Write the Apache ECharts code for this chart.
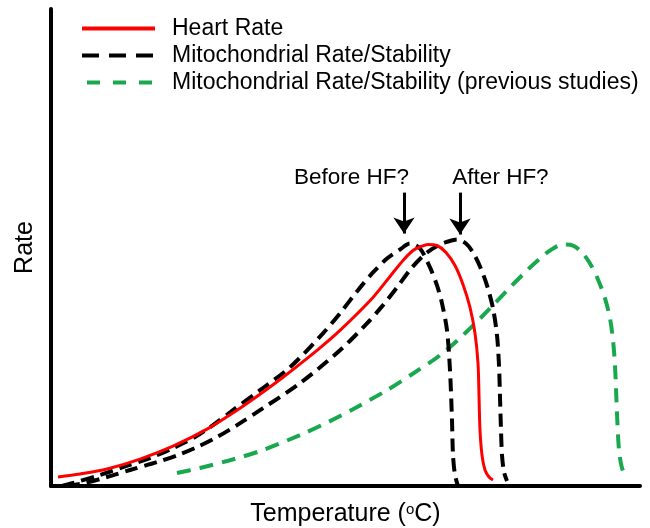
<!DOCTYPE html>
<html>
<head>
<meta charset="utf-8">
<script src="https://cdn.jsdelivr.net/npm/echarts@6/dist/echarts.min.js"></script>
<style>
html,body{margin:0;padding:0;background:#fff;}
#chart{width:650px;height:528px;}
</style>
</head>
<body>
<div id="chart"></div>
<script>
// Temperature (arbitrary units) vs Rate (arbitrary units)
const seriesNames = ['Heart Rate', 'Mitochondrial Rate/Stability', 'Mitochondrial Rate/Stability (previous studies)'];

const heartRate = [
  [7,9],[29,12],[56,17],[89,27],[122,40],[156,57],[186,76],[209,92],[232,109],[266,136],
  [289,156],[322,189],[339,210],[352,226],[362,236],[370,240],[377,242],[386,241],[395,234],
  [404,221],[412,202],[419,179],[424,153],[427,123],[428,91],[429,56],[431,31],[434,16],[438,9],[442,6]
];

const mitoBefore = [
  [11,0],[22,3],[49,11],[72,19],[99,28],[122,38],[144,49],[162,61],[182,76],[209,96],
  [239,119],[272,153],[289,173],[306,195],[322,214],[336,228],[349,237],[359,243],[369,238],
  [379,219],[386,201],[391,183],[396,156],[399,116],[401,66],[402,31],[404,11],[407,0]
];

const mitoAfter = [
  [16,0],[34,3],[56,9],[79,16],[106,24],[127,31],[146,39],[166,49],[186,61],[212,78],
  [249,103],[289,136],[316,163],[331,180],[346,199],[361,219],[376,234],[389,242],[397,245],
  [406,247],[415,243],[422,234],[429,220],[436,201],[442,178],[446,151],[448,121],[449,89],
  [450,56],[451,31],[453,14],[456,5]
];

const mitoPrevious = [
  [126,13],[149,18],[176,25],[209,35],[249,51],[279,65],[302,77],[336,96],[364,114],[389,131],
  [414,153],[439,178],[459,199],[476,216],[489,228],[499,236],[512,242],[522,241],[531,234],
  [539,223],[547,207],[554,188],[559,168],[562,146],[564,121],[566,73],[568,36],[571,18],[576,8]
];

// annotation labels and arrows (data coordinates)
const annotLabels = [
  {name: 'Before HF?', value: [301, 308]},
  {name: 'After HF?', value: [450, 308]}
];
const arrowBefore = [[353, 294], [353, 253]];
const arrowAfter = [[409, 294], [409, 252]];

const xMax = 589, yMax = 478;

const chart = echarts.init(document.getElementById('chart'), null, {renderer: 'canvas'});
const FONT = 'Liberation Sans, Arial, sans-serif';

chart.setOption({
  animation: false,
  backgroundColor: '#fff',
  textStyle: {fontFamily: FONT},
  grid: {left: 51, right: 10, top: 9, bottom: 42, containLabel: false, outerBoundsMode: 'none'},
  legend: {
    orient: 'vertical',
    left: 80,
    top: 17,
    padding: 0,
    itemGap: 4,
    itemWidth: 73,
    itemHeight: 14,
    itemStyle: {opacity: 0},
    textStyle: {fontSize: 23, color: '#000', fontFamily: FONT, lineHeight: 23, padding: [0,0,0,12]},
    data: [
      {name: seriesNames[0], lineStyle: {width: 4, type: 'solid'}},
      {name: seriesNames[1], lineStyle: {width: 4, type: [17,10]}},
      {name: seriesNames[2], lineStyle: {width: 4, type: [13,13], dashOffset: 21}}
    ]
  },
  xAxis: {
    type: 'value', min: 0, max: xMax,
    name: 'Temperature ({sup|o}C)',
    nameLocation: 'middle', nameGap: 16,
    nameTextStyle: {fontSize: 25, color: '#000', fontFamily: FONT, verticalAlign: 'top',
      rich: {sup: {fontSize: 15, verticalAlign: 'top', color: '#000', fontFamily: FONT}}},
    axisLine: {show: true, lineStyle: {color: '#000', width: 4}},
    axisTick: {show: false}, axisLabel: {show: false}, splitLine: {show: false}
  },
  yAxis: {
    type: 'value', min: 0, max: yMax,
    name: 'Rate', nameLocation: 'middle', nameGap: 13, nameRotate: 90,
    nameTextStyle: {fontSize: 25, color: '#000', fontFamily: FONT},
    axisLine: {show: true, lineStyle: {color: '#000', width: 4}},
    axisTick: {show: false}, axisLabel: {show: false}, splitLine: {show: false}
  },
  series: [
    {
      name: seriesNames[2], type: 'line', data: mitoPrevious, smooth: 0.3,
      symbol: 'none', lineStyle: {color: '#1aa84f', width: 4, type: [14,9]},
      itemStyle: {color: '#1aa84f'}, z: 2
    },
    {
      name: seriesNames[1], type: 'line', data: mitoAfter, smooth: 0.3,
      symbol: 'none', lineStyle: {color: '#000', width: 4, type: [13,7]},
      itemStyle: {color: '#000'}, z: 3
    },
    {
      name: seriesNames[1], type: 'line', data: mitoBefore, smooth: 0.3,
      symbol: 'none', lineStyle: {color: '#000', width: 4, type: [13,7]},
      itemStyle: {color: '#000'}, z: 3
    },
    {
      name: seriesNames[0], type: 'line', data: heartRate, smooth: 0.3,
      symbol: 'none', lineStyle: {color: '#ff0000', width: 3},
      itemStyle: {color: '#ff0000'}, z: 4
    },
    {
      name: 'annotations', type: 'scatter', data: annotLabels,
      symbolSize: 1, itemStyle: {color: 'rgba(0,0,0,0)', opacity: 1}, silent: true, z: 5,
      label: {show: true, position: [0, 0], align: 'center', verticalAlign: 'middle',
        formatter: '{b}', fontSize: 22.5, color: '#000', opacity: 1, fontFamily: FONT},
      markLine: {
        silent: true, animation: false,
        symbol: ['none', 'arrow'], symbolSize: [16, 16],
        label: {show: false},
        lineStyle: {color: '#000', width: 3, type: 'solid'},
        data: [
          [{coord: arrowBefore[0]}, {coord: arrowBefore[1]}],
          [{coord: arrowAfter[0]}, {coord: arrowAfter[1]}]
        ]
      }
    }
  ]
});
</script>
</body>
</html>
